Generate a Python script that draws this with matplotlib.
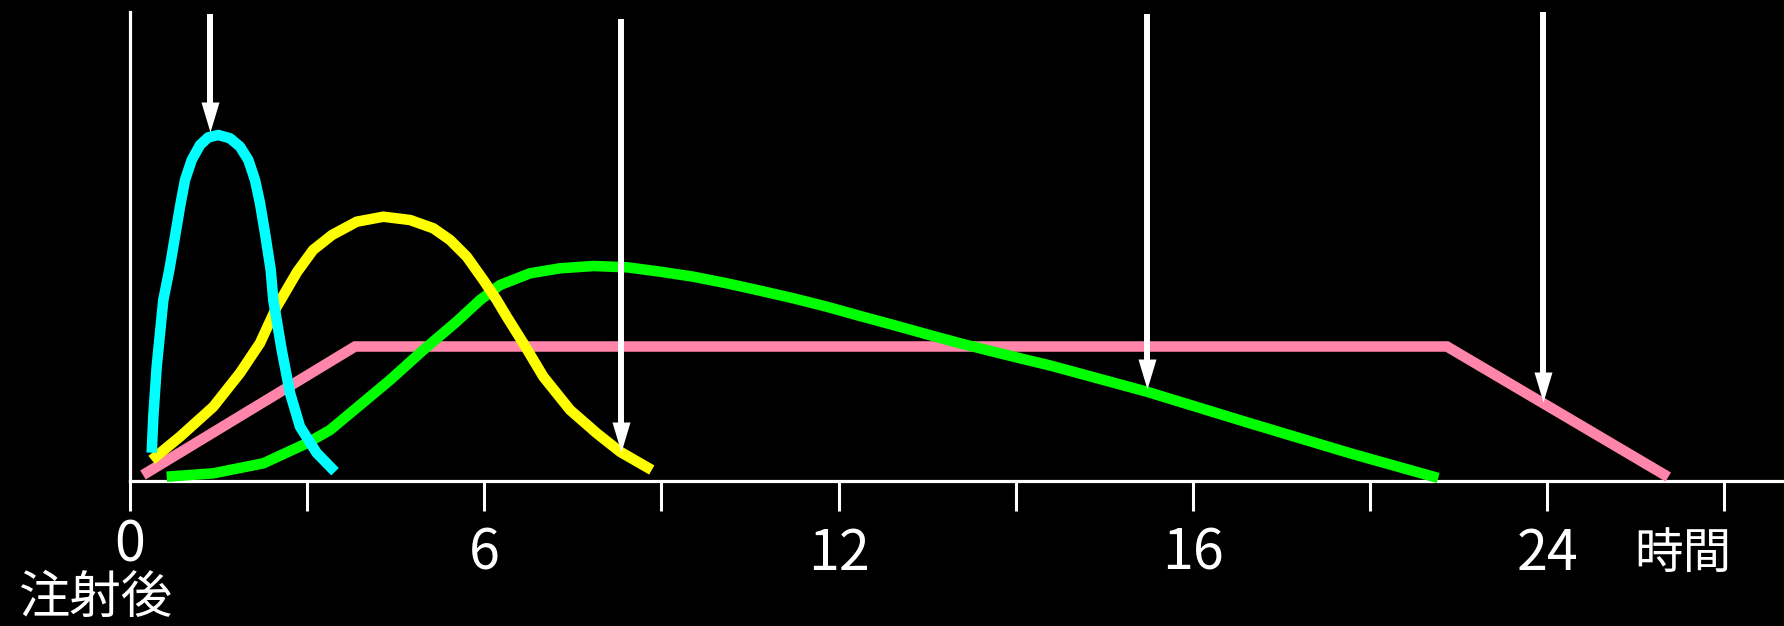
import matplotlib
matplotlib.use("Agg")
import matplotlib.pyplot as plt
from matplotlib import font_manager
from matplotlib.transforms import blended_transform_factory

# ---------------- data (hours after injection, relative level) ----------------
cyan_x = [0.368, 0.395, 0.452, 0.564, 0.666, 0.762, 0.847, 0.932, 1.045, 1.186,
          1.326, 1.496, 1.694, 1.863, 2.004, 2.117, 2.202, 2.287, 2.383, 2.427,
          2.569, 2.710, 2.879, 3.162, 3.472]
cyan_y = [6.03, 13.71, 24.37, 38.59, 44.99, 52.09, 58.49, 64.18, 68.44, 71.64,
          73.28, 73.77, 73.07, 71.28, 68.44, 64.18, 59.21, 52.81, 44.99, 38.59,
          27.93, 18.76, 11.58, 5.97, 1.98]

yellow_x = [0.368, 0.847, 1.411, 1.863, 2.202, 2.485, 2.829, 3.100, 3.421, 3.840,
            4.290, 4.743, 5.137, 5.420, 5.703, 5.984, 6.211, 6.380, 6.662, 7.000,
            7.453, 7.905, 8.299, 8.836]
yellow_y = [4.48, 9.45, 15.84, 23.03, 29.42, 37.16, 44.56, 49.25, 52.45, 55.29,
            56.35, 55.65, 53.88, 51.39, 47.83, 42.86, 38.59, 35.03, 29.36, 22.24,
            15.14, 10.17, 6.25, 2.35]

green_x = [0.622, 1.411, 2.258, 2.993, 3.388, 3.896, 4.404, 4.968, 5.534, 5.928,
           6.267, 6.775, 7.283, 7.847, 8.413, 8.977, 9.541, 10.107, 10.671, 11.235,
           11.800, 12.364, 12.929, 13.494, 14.058, 14.622, 15.075, 15.583, 17.220,
           18.970, 20.664, 22.154]
green_y = [0.92, 1.64, 3.77, 8.04, 10.87, 16.20, 21.54, 27.93, 34.01, 38.59,
           41.79, 44.29, 45.35, 45.84, 45.57, 44.63, 43.56, 42.15, 40.58, 38.95,
           37.16, 35.18, 33.26, 31.28, 29.36, 27.57, 26.16, 24.63, 19.04,
           12.30, 5.91, 0.64]

pink_x = [0.220, 3.811, 22.302, 26.050]
pink_y = [1.28, 28.68, 28.68, 0.85]

arrow_x = [1.355, 8.311, 17.220, 23.933]
arrow_top = [99.57, 98.51, 99.57, 100.0]
arrow_tip = [74.41, 6.25, 19.55, 16.84]

tick_hours = [0, 3, 6, 9, 12, 15, 18, 21, 24, 27]
label_hours = [0, 6, 12, 18, 24]
label_texts = ["0", "6", "12", "16", "24"]
x_unit_label = "時間"
start_label = "注射後"

# ---------------- fonts ----------------
names = {f.name for f in font_manager.fontManager.ttflist}
cjk = "Noto Sans CJK JP"
digit_font = "Liberation Sans Narrow" if "Liberation Sans Narrow" in names else cjk

# ---------------- figure ----------------
W, H, DPI = 1784, 626, 100
fig = plt.figure(figsize=(W / DPI, H / DPI), dpi=DPI, facecolor="black")
ax_left, ax_bottom, ax_w, ax_h = 130, 145, 1654, 469
ax = fig.add_axes([ax_left / W, ax_bottom / H, ax_w / W, ax_h / H])
ax.set_facecolor("black")
XMAX, YMAX = 28.01, 100.0
ax.set_xlim(0, XMAX)
ax.set_ylim(0, YMAX)
px_per_y = ax_h / YMAX

for s in ("top", "right"):
    ax.spines[s].set_visible(False)
for s in ("left", "bottom"):
    ax.spines[s].set_color("white")
    ax.spines[s].set_linewidth(2.3)

ax.set_xticks(tick_hours)
ax.set_xticklabels([])
ax.set_yticks([])
ax.tick_params(axis="x", direction="out", length=21.6, width=2.2, color="white")

lw = 7.6
common = dict(solid_capstyle="butt", clip_on=False)
ax.plot(pink_x, pink_y, color="#FF85AA", lw=lw, solid_joinstyle="miter", zorder=3, **common)
ax.plot(green_x, green_y, color="#00FF00", lw=lw, solid_joinstyle="round", zorder=4, **common)
ax.plot(yellow_x, yellow_y, color="#FFFF00", lw=lw, solid_joinstyle="round", zorder=5, **common)
ax.plot(cyan_x, cyan_y, color="#00FFFF", lw=lw, solid_joinstyle="round", zorder=6, **common)

# arrows: shaft + triangular head
shaft_end = [t + 15 / px_per_y for t in arrow_tip]
ax.vlines(arrow_x, shaft_end, arrow_top, color="white", lw=4.3, zorder=7, clip_on=False)
head = [(-9, 30), (9, 30), (0, 0), (-9, 30)]
ax.plot(arrow_x, arrow_tip, linestyle="none", marker=head, markersize=60 * 0.72,
        markeredgewidth=0, color="white", zorder=8, clip_on=False)

# tick labels
tr = blended_transform_factory(ax.transData, fig.transFigure)
for h, t in zip(label_hours, label_texts):
    base_px = 562 if h == 0 else 570
    ax.text(h, (H - base_px) / H, t, transform=tr, ha="center", va="baseline",
            color="white", fontsize=40, family=[digit_font, cjk])

fig.text(1683 / W, (H - 554) / H, x_unit_label, ha="center", va="center",
         color="white", fontsize=35, family=[cjk, "DejaVu Sans"])
fig.text(95 / W, 1 / H, start_label, ha="center", va="bottom",
         color="white", fontsize=37, family=[cjk, "DejaVu Sans"])

fig.savefig("out.png", dpi=DPI, facecolor="black")
